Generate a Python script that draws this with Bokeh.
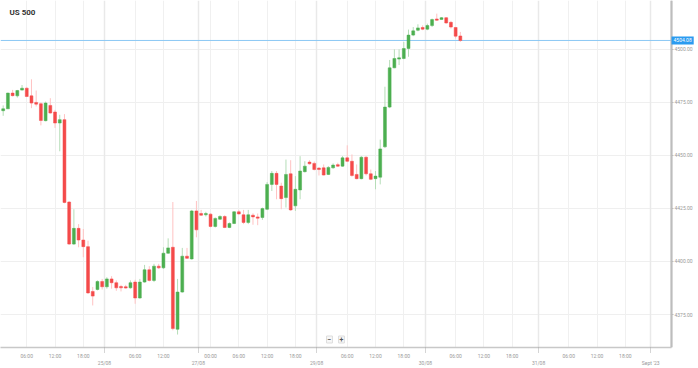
from bokeh.plotting import figure
from bokeh.models import (Range1d, LinearAxis, FixedTicker, Span, Label, BoxAnnotation,
                          ColumnDataSource, Grid, NumeralTickFormatter)
from bokeh.embed import file_html
from bokeh.resources import INLINE

# ---- data (hourly candles, index along a compressed trading-time axis) ----
open_ = [4471.0, 4471.9, 4479.3, 4478.0, 4480.7, 4481.6, 4478.0, 4474.9, 4474.3, 4466.3,
         4473.5, 4470.4, 4465.2, 4466.8, 4428.0, 4408.2, 4415.6, 4410.1, 4407.0, 4385.9,
         4386.8, 4390.6, 4388.1, 4391.8, 4390.0, 4388.2, 4388.1, 4387.6, 4390.3, 4382.8,
         4390.3, 4396.1, 4391.1, 4397.8, 4397.0, 4403.9, 4406.7, 4368.1, 4385.6, 4402.5,
         4401.2, 4423.8, 4422.6, 4422.0, 4422.3, 4416.5, 4419.9, 4421.2, 4416.0, 4417.9,
         4423.4, 4422.0, 4418.4, 4421.8, 4421.0, 4420.7, 4424.6, 4436.3, 4441.5, 4435.5,
         4430.1, 4441.3, 4426.2, 4433.7, 4442.3, 4446.8, 4446.2, 4444.0, 4444.1, 4441.0,
         4444.1, 4445.6, 4444.9, 4448.8, 4447.2, 4441.0, 4439.0, 4449.1, 4441.3, 4439.0,
         4439.7, 4454.0, 4472.7, 4491.2, 4495.3, 4495.6, 4500.3, 4506.6, 4508.9, 4510.2,
         4509.4, 4511.1, 4514.2, 4514.0, 4514.8, 4512.6, 4510.2, 4506.2]
high = [4473.5, 4479.5, 4480.8, 4480.8, 4483.1, 4482.1, 4485.8, 4480.5, 4474.9, 4475.3,
        4476.9, 4471.4, 4469.1, 4469.4, 4428.4, 4424.6, 4417.6, 4415.3, 4409.8, 4388.0,
        4391.1, 4391.8, 4392.6, 4393.1, 4391.1, 4389.0, 4389.0, 4391.1, 4391.4, 4391.8,
        4398.4, 4397.8, 4398.9, 4398.9, 4406.7, 4410.9, 4428.0, 4391.8, 4406.4, 4406.4,
        4424.3, 4428.5, 4424.3, 4423.4, 4422.7, 4420.7, 4421.8, 4421.8, 4418.4, 4423.7,
        4424.3, 4424.3, 4424.3, 4422.7, 4422.6, 4425.4, 4437.4, 4442.6, 4442.6, 4437.1,
        4448.0, 4447.7, 4440.2, 4449.6, 4447.2, 4447.7, 4447.1, 4444.4, 4445.7, 4444.9,
        4446.2, 4446.5, 4449.6, 4454.7, 4450.4, 4445.7, 4449.6, 4449.6, 4443.3, 4442.6,
        4457.4, 4482.3, 4494.9, 4499.9, 4499.9, 4503.4, 4509.2, 4510.4, 4511.7, 4511.2,
        4512.0, 4514.4, 4516.7, 4515.1, 4515.1, 4513.3, 4510.4, 4508.1]
low = [4468.6, 4471.8, 4477.7, 4477.2, 4480.5, 4477.4, 4472.2, 4473.0, 4464.1, 4466.0,
       4469.6, 4462.9, 4451.9, 4427.4, 4407.8, 4407.8, 4406.7, 4402.0, 4384.8, 4379.3,
       4386.4, 4386.8, 4387.2, 4387.2, 4386.2, 4385.9, 4387.2, 4387.2, 4380.1, 4382.5,
       4390.0, 4390.6, 4390.3, 4396.5, 4396.5, 4403.6, 4367.6, 4365.6, 4385.3, 4401.2,
       4400.9, 4411.4, 4421.5, 4421.2, 4416.0, 4416.0, 4419.6, 4415.7, 4415.7, 4417.6,
       4422.1, 4417.6, 4417.6, 4417.3, 4417.1, 4419.6, 4424.2, 4433.2, 4429.3, 4424.6,
       4425.4, 4423.8, 4423.8, 4429.3, 4441.9, 4445.6, 4442.9, 4440.5, 4440.5, 4440.7,
       4443.7, 4444.6, 4444.6, 4446.8, 4439.9, 4438.7, 4438.7, 4440.5, 4438.3, 4434.0,
       4436.3, 4453.5, 4472.2, 4491.0, 4492.5, 4495.2, 4496.4, 4506.1, 4508.4, 4508.9,
       4508.9, 4510.4, 4513.3, 4513.9, 4512.0, 4509.7, 4505.0, 4503.4]
close = [4471.9, 4479.3, 4478.1, 4480.5, 4481.6, 4477.7, 4474.6, 4474.1, 4466.4, 4474.6,
         4469.9, 4465.2, 4466.8, 4427.8, 4408.2, 4415.6, 4410.1, 4407.0, 4385.2, 4383.7,
         4390.6, 4388.1, 4391.8, 4390.0, 4387.6, 4387.6, 4387.5, 4390.0, 4382.8, 4390.3,
         4396.1, 4391.1, 4397.8, 4397.0, 4403.9, 4406.4, 4368.4, 4385.6, 4402.5, 4401.5,
         4423.8, 4414.9, 4421.8, 4422.6, 4416.5, 4420.3, 4421.2, 4416.0, 4417.9, 4423.4,
         4422.4, 4418.4, 4422.0, 4421.0, 4420.4, 4424.9, 4436.3, 4441.5, 4436.3, 4429.6,
         4441.0, 4424.3, 4434.0, 4442.6, 4444.9, 4446.0, 4443.3, 4443.3, 4440.7, 4444.3,
         4445.4, 4444.9, 4448.8, 4447.2, 4440.5, 4439.0, 4449.1, 4441.3, 4438.7, 4440.2,
         4453.0, 4472.7, 4491.2, 4495.6, 4495.9, 4500.3, 4506.6, 4508.6, 4510.0, 4509.4,
         4511.1, 4513.9, 4513.6, 4514.8, 4512.3, 4510.4, 4506.1, 4504.08]

time_tick_pos = [6, 12, 18, 29, 35, 45, 51, 57, 63, 74, 80, 86, 97, 103, 109, 121, 127, 133]
time_tick_labels = ["06:00", "12:00", "18:00", "06:00", "12:00", "00:00", "06:00", "12:00",
                    "18:00", "06:00", "12:00", "18:00", "06:00", "12:00", "18:00", "06:00",
                    "12:00", "18:00"]
date_tick_pos = [22.5, 42.4, 67.5, 90.6, 114.6, 138.4]
date_tick_labels = ["25/08", "27/08", "29/08", "30/08", "31/08", "Sept '23"]
price_ticks = [4375, 4400, 4425, 4450, 4475, 4500]

title_text = "US 500"

# ---- derived columns ----
idx = list(range(1, len(open_) + 1))
up = [c >= o for o, c in zip(open_, close)]
GREEN, RED = "#4caf50", "#f44a4a"
GREEN_W, RED_W = "#b5ddb7", "#ffc2c2"
src = ColumnDataSource(dict(
    x=idx, open=open_, high=high, low=low, close=close,
    top=[max(o, c) for o, c in zip(open_, close)],
    bottom=[min(o, c) for o, c in zip(open_, close)],
    body=[GREEN if u else RED for u in up],
    wick=[GREEN_W if u else RED_W for u in up],
))

FONT = "Roboto"
X0 = 0.43          # left edge of the visible time range
X_AXIS = 142.8     # where the price scale sits
X1 = 148.53        # right edge of the canvas in time units

p = figure(width=698, height=368, output_backend="svg", toolbar_location=None,
           x_range=Range1d(X0, X1), y_range=Range1d(4359.5, 4522.9),
           x_axis_location=None, y_axis_location="right",
           min_border_left=0, min_border_top=0, min_border_right=0, min_border_bottom=19,
           background_fill_color="white", border_fill_color="white")
p.outline_line_color = None

# y axis drawn at a fixed position inside the canvas
yt = FixedTicker(ticks=price_ticks)
p.yaxis.fixed_location = X_AXIS
p.yaxis.ticker = yt
p.yaxis.formatter = NumeralTickFormatter(format="0.00")
p.yaxis.major_label_text_font_size = "5px"
p.yaxis.major_label_text_font = FONT
p.yaxis.major_label_text_color = "#999999"
p.yaxis.axis_line_color = "#bdbdbd"
p.yaxis.axis_line_width = 2
p.yaxis.major_tick_line_color = "#bbbbbb"
p.yaxis.major_tick_out = 2
p.yaxis.major_tick_in = 0
p.yaxis.minor_tick_line_color = None
p.yaxis.major_label_standoff = 1
p.ygrid.ticker = yt
p.ygrid.grid_line_color = "#efefef"
p.xgrid.visible = False

# vertical grids
p.add_layout(Grid(dimension=0, ticker=FixedTicker(ticks=time_tick_pos),
                  grid_line_color="#f0f0f0", grid_line_width=1))
p.add_layout(Grid(dimension=0, ticker=FixedTicker(ticks=date_tick_pos),
                  grid_line_color="#e9e9e9", grid_line_width=1.5))

# last price line (under the blank price-scale strip)
last = close[-1]
p.add_layout(Span(location=last, dimension="width", line_color="#8cc8f4", line_width=1,
                  level="underlay"))
# blank strip to the right of the price scale
p.add_layout(BoxAnnotation(left=X_AXIS, fill_color="white", fill_alpha=1.0,
                           line_color=None, level="underlay"))
# price-scale border line
p.add_layout(Span(location=X_AXIS, dimension="height", line_color="#c2c2c2",
                  line_width=1.5, level="underlay"))

# x axes (below): time row and date row
xa1 = LinearAxis(ticker=FixedTicker(ticks=time_tick_pos, minor_ticks=date_tick_pos),
                 major_label_overrides={t: l for t, l in zip(time_tick_pos, time_tick_labels)},
                 bounds=(X0, X_AXIS))
xa1.axis_line_color = "#c8c8c8"
xa1.axis_line_width = 1.5
xa1.major_tick_line_color = None
xa1.major_tick_out = 0
xa1.major_tick_in = 0
xa1.minor_tick_line_color = "#aaaaaa"
xa1.minor_tick_line_dash = "1 1"
xa1.minor_tick_out = 5
xa1.minor_tick_in = 0
xa1.major_label_standoff = 0
xa1.major_label_text_font_size = "5px"
xa1.major_label_text_font = FONT
xa1.major_label_text_color = "#999999"
p.add_layout(xa1, "below")

xa2 = LinearAxis(ticker=FixedTicker(ticks=date_tick_pos),
                 major_label_overrides={t: l for t, l in zip(date_tick_pos, date_tick_labels)})
xa2.axis_line_color = None
xa2.major_tick_line_color = None
xa2.minor_tick_line_color = None
xa2.major_tick_out = 0
xa2.major_tick_in = 0
xa2.major_label_standoff = -2
xa2.major_label_text_font_size = "5px"
xa2.major_label_text_font = FONT
xa2.major_label_text_color = "#999999"
p.add_layout(xa2, "below")

# candles
p.segment(x0="x", y0="low", x1="x", y1="high", source=src, line_color="wick", line_width=1)
p.vbar(x="x", width=0.62, top="top", bottom="bottom", source=src,
       fill_color="body", line_color="body", line_width=0.5)

# last price tag
p.add_layout(Label(x=X_AXIS, y=last, text=f"\u2009{last:.2f}\u2009", x_offset=0,
                   text_font_size="5px", text_font=FONT,
                   text_color="white", text_align="left", text_baseline="middle",
                   background_fill_color="#2b9bf0", padding=1))

# title
p.add_layout(Label(x=9, y=335, x_units="screen", y_units="screen", text=title_text,
                   text_font=FONT, text_font_size="8px", text_font_style="bold",
                   text_color="#333333", text_align="left", text_baseline="middle"))

# zoom buttons
for bx, sym in ((329, "\u2212"), (341, "+")):
    p.add_layout(Label(x=bx, y=8, x_units="screen", y_units="screen", text=sym,
                       text_font=FONT, text_font_size="7px", text_font_style="bold",
                       text_color="#555555", text_align="center", text_baseline="middle",
                       background_fill_color="#f7f7f7", border_line_color="#dddddd",
                       padding=1))

open("out.html", "w").write(file_html(p, INLINE))
